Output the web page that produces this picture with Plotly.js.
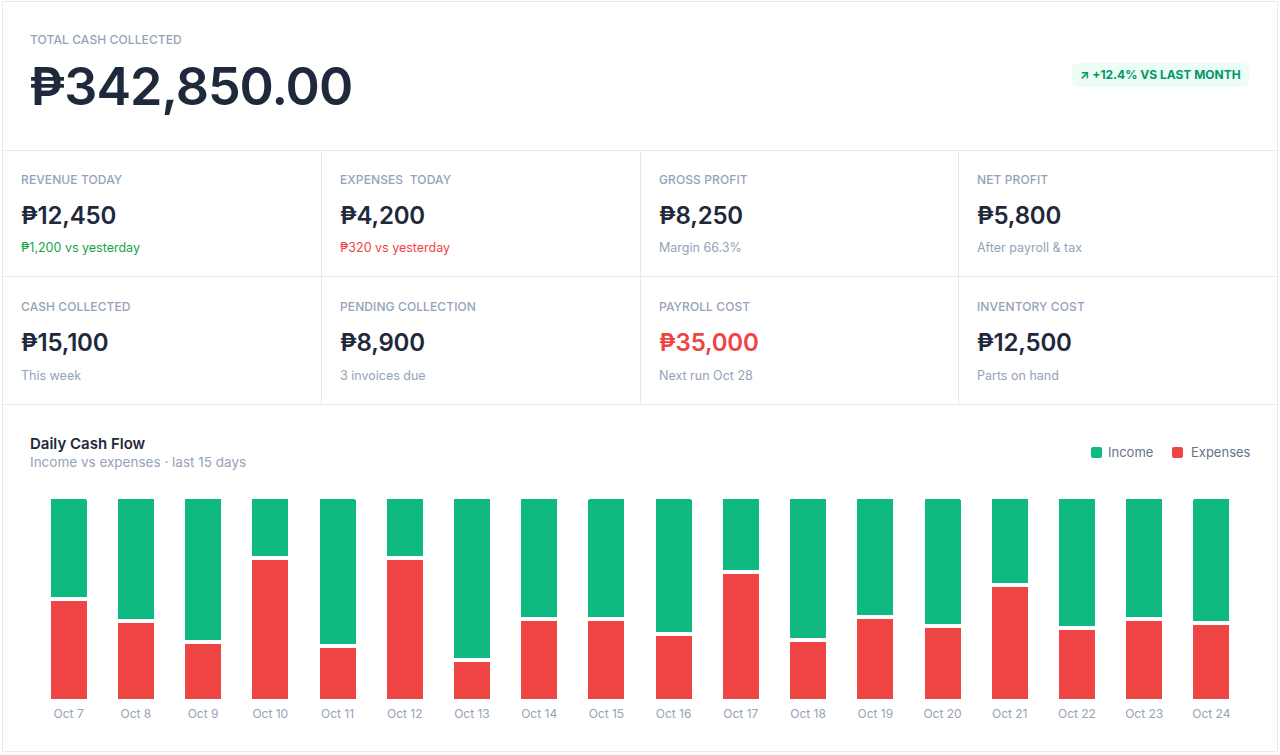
<!DOCTYPE html>
<html>
<head>
<meta charset="utf-8">
<script src="https://cdn.plot.ly/plotly-3.0.1.min.js"></script>
<style>
  html, body { margin:0; padding:0; background:#ffffff; }
  body { width:1280px; height:755px; position:relative; overflow:hidden; font-family:Inter, "Noto Sans", sans-serif; }
  .abs { position:absolute; line-height:1; white-space:nowrap; }
  .card { position:absolute; left:2px; top:1px; width:1274px; height:749px; border:1px solid #e6e9ee; box-sizing:content-box; }
  .hl { position:absolute; height:1px; background:#e6e9ee; }
  .vl { position:absolute; width:1px; background:#e6e9ee; }
  .lbl { font-size:12px; font-weight:500; color:#94a3b8; letter-spacing:0.1px; }
  .val { font-size:24px; font-weight:600; color:#1e293b; letter-spacing:-0.2px; }
  .sub { font-size:12.5px; font-weight:400; color:#94a3b8; }
</style>
</head>
<body>
<div class="card"></div>
<div class="hl" style="left:2px;top:150px;width:1275px;"></div>
<div class="hl" style="left:2px;top:276px;width:1275px;"></div>
<div class="hl" style="left:2px;top:404px;width:1275px;"></div>
<div class="vl" style="left:321px;top:150px;height:254px;"></div>
<div class="vl" style="left:640px;top:150px;height:254px;"></div>
<div class="vl" style="left:958px;top:150px;height:254px;"></div>

<div class="abs lbl" style="left:30px;top:34px;font-size:12px;">TOTAL CASH COLLECTED</div>
<div class="abs" style="left:29px;top:61px;font-size:52px;font-weight:600;color:#1e293b;letter-spacing:-1px;">₱342,850.00</div>
<div class="abs" style="left:1072px;top:63px;width:177px;height:24px;background:#ecfdf5;border-radius:6px;"></div>
<div class="abs" style="left:1080px;top:69px;font-size:12px;font-weight:700;color:#059669;">↗ +12.4% VS LAST MONTH</div>

<div id="kpis"></div>

<div class="abs" style="left:30px;top:435.5px;font-size:15px;font-weight:600;color:#1e293b;">Daily Cash Flow</div>
<div class="abs" style="left:30px;top:456px;font-size:13.5px;color:#94a3b8;">Income vs expenses · last 15 days</div>

<div class="abs" style="left:1091px;top:447px;width:11px;height:11px;border-radius:2px;background:#10b981;"></div>
<div class="abs" style="left:1108px;top:445.5px;font-size:13px;color:#64748b;">Income</div>
<div class="abs" style="left:1172px;top:447px;width:11px;height:11px;border-radius:2px;background:#ef4444;"></div>
<div class="abs" style="left:1191px;top:445.5px;font-size:13px;color:#64748b;">Expenses</div>

<div id="chart" style="position:absolute;left:2px;top:405px;width:1275px;height:346px;"></div>

<script>
// KPI tiles
const kpiLabels = ['REVENUE TODAY', 'EXPENSES  TODAY', 'GROSS PROFIT', 'NET PROFIT',
                   'CASH COLLECTED', 'PENDING COLLECTION', 'PAYROLL COST', 'INVENTORY COST'];
const kpiValues = ['₱12,450', '₱4,200', '₱8,250', '₱5,800',
                   '₱15,100', '₱8,900', '₱35,000', '₱12,500'];
const kpiNotes  = ['₱1,200 vs yesterday', '₱320 vs yesterday', 'Margin 66.3%', 'After payroll & tax',
                   'This week', '3 invoices due', 'Next run Oct 28', 'Parts on hand'];
const kpiValueColors = ['#1e293b','#1e293b','#1e293b','#1e293b','#1e293b','#1e293b','#ef4444','#1e293b'];
const kpiNoteColors  = ['#16a34a','#ef4444','#94a3b8','#94a3b8','#94a3b8','#94a3b8','#94a3b8','#94a3b8'];

// Daily cash flow (share of each day's total, %)
const days = ['Oct 7','Oct 8','Oct 9','Oct 10','Oct 11','Oct 12','Oct 13','Oct 14','Oct 15',
              'Oct 16','Oct 17','Oct 18','Oct 19','Oct 20','Oct 21','Oct 22','Oct 23','Oct 24'];
const expensesShare = [50, 39, 29, 70, 27, 70, 20, 40, 40, 33, 63, 30, 41, 37, 57, 36, 40, 38];
const incomeShare   = [50, 61, 71, 30, 73, 30, 80, 60, 60, 67, 37, 70, 59, 63, 43, 64, 60, 62];

(function buildKpis(){
  const host = document.getElementById('kpis');
  const colX = [21, 340, 659, 977];
  const rowLbl = [174, 301], rowVal = [204, 331], rowSub = [241.5, 369.5];
  kpiLabels.forEach((lab, i) => {
    const c = i % 4, r = Math.floor(i / 4);
    const mk = (cls, top, text, color) => {
      const d = document.createElement('div');
      d.className = 'abs ' + cls;
      d.style.left = colX[c] + 'px';
      d.style.top = top + 'px';
      d.style.whiteSpace = 'pre';
      if (color) d.style.color = color;
      d.textContent = text;
      host.appendChild(d);
    };
    mk('lbl', rowLbl[r], lab);
    mk('val', rowVal[r], kpiValues[i], kpiValueColors[i]);
    mk('sub', rowSub[r], kpiNotes[i], kpiNoteColors[i]);
  });
})();

const traces = [
  { type:'bar', name:'Expenses', x:days, y:expensesShare,
    marker:{ color:'#ef4444', line:{ color:'#ffffff', width:4 } }, hoverinfo:'skip' },
  { type:'bar', name:'Income', x:days, y:incomeShare,
    marker:{ color:'#10b981', line:{ color:'#ffffff', width:4 } }, hoverinfo:'skip' }
];

const layout = {
  width:1275, height:346,
  margin:{ l:33, r:32, t:92, b:50, pad:0 },
  paper_bgcolor:'rgba(0,0,0,0)', plot_bgcolor:'rgba(0,0,0,0)',
  barmode:'stack', bargap:0.405, barcornerradius:3,
  showlegend:false,
  font:{ family:'Inter, "Noto Sans", sans-serif' },
  xaxis:{ type:'category', showgrid:false, zeroline:false, showline:false, ticks:'',
          ticklabelstandoff:4,
          tickfont:{ size:12, color:'#94a3b8' }, fixedrange:true },
  yaxis:{ range:[0,100], showgrid:false, zeroline:false, showline:false, showticklabels:false,
          ticks:'', fixedrange:true }
};

Plotly.newPlot('chart', traces, layout, { displayModeBar:false, staticPlot:true });
</script>
</body>
</html>
